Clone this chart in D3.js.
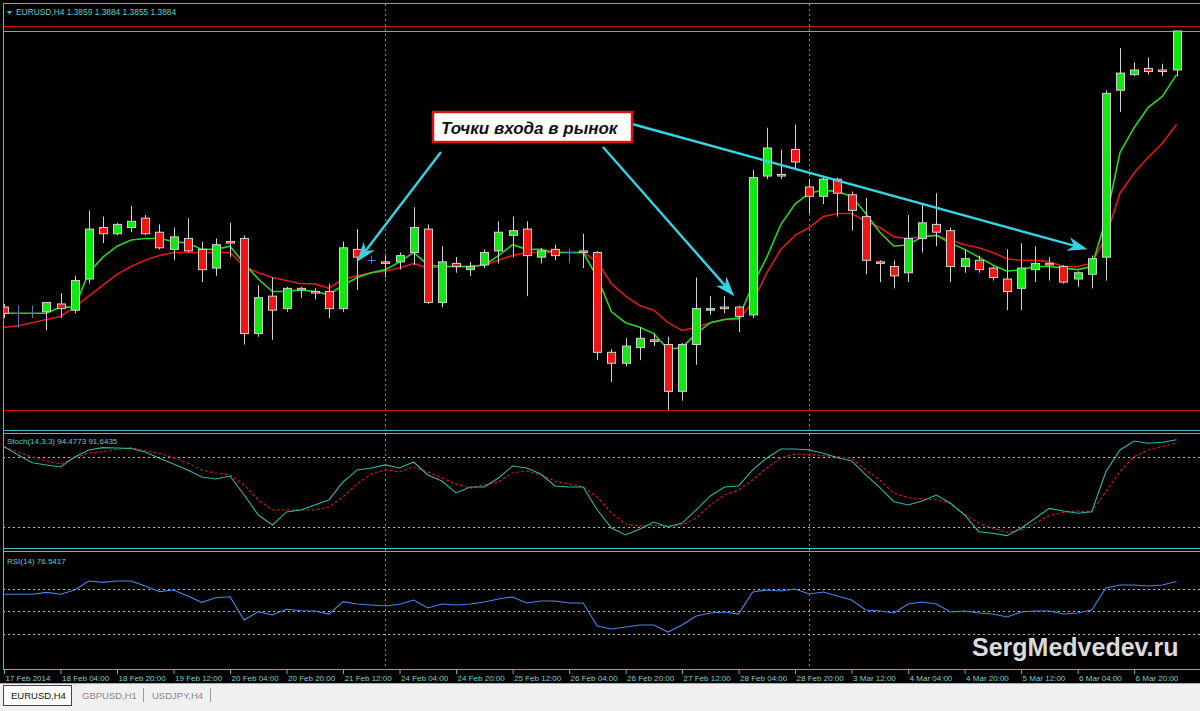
<!DOCTYPE html>
<html><head><meta charset="utf-8">
<script src="https://cdn.jsdelivr.net/npm/d3@7"></script>
<style>body{margin:0;background:#000;overflow:hidden}svg{display:block}</style>
</head><body>
<svg id="c" width="1200" height="711"></svg>
<script>
// ---------------- DATA ----------------
const symbolTitle = "EURUSD,H4";
const lastQuote = ["1.3859","1.3884","1.3855","1.3884"];
const opens = [1.3707,1.3703,1.3703,1.3704,1.3709,1.3705,1.3725,1.3758,1.3754,1.3758,
1.3764,1.3755,1.3744,1.3751,1.3744,1.3732,1.3749,1.3751,1.3690,1.3714,
1.3706,1.3719,1.3717,1.3717,1.3706,1.3744,1.3737,1.3736,1.3736,1.3742,
1.3757,1.3710,1.3735,1.3731,1.3734,1.3743,1.3753,1.3757,1.3739,1.3744,
1.3742,1.3743,1.3742,1.3678,1.3671,1.3681,1.3686,1.3683,1.3653,1.3683,
1.3705,1.3707,1.3707,1.3702,1.3791,1.3792,1.3808,1.3784,1.3778,1.3789,
1.3779,1.3765,1.3736,1.3733,1.3729,1.3751,1.3760,1.3756,1.3733,1.3737,
1.3732,1.3725,1.3719,1.3731,1.3735,1.3733,1.3725,1.3728,1.3739,1.3846,
1.3856,1.3860,1.3859,1.3859];
const highs = [1.3709,1.3708,1.3708,1.3710,1.3716,1.3727,1.3769,1.3765,1.3761,1.3772,
1.3766,1.3760,1.3758,1.3764,1.3749,1.3751,1.3761,1.3753,1.3721,1.3726,
1.3720,1.3720,1.3719,1.3722,1.3749,1.3757,1.3740,1.3740,1.3742,1.3771,
1.3760,1.3746,1.3739,1.3736,1.3744,1.3762,1.3765,1.3762,1.3745,1.3747,
1.3744,1.3754,1.3743,1.3680,1.3687,1.3694,1.3690,1.3688,1.3684,1.3726,
1.3714,1.3714,1.3708,1.3795,1.3822,1.3808,1.3824,1.3789,1.3790,1.3790,
1.3781,1.3777,1.3737,1.3737,1.3766,1.3773,1.3780,1.3758,1.3744,1.3740,
1.3733,1.3744,1.3748,1.3746,1.3739,1.3734,1.3730,1.3740,1.3846,1.3873,
1.3864,1.3867,1.3863,1.3884];
const lows = [1.3700,1.3694,1.3700,1.3692,1.3700,1.3703,1.3722,1.3748,1.3753,1.3755,
1.3753,1.3744,1.3737,1.3742,1.3723,1.3727,1.3739,1.3683,1.3688,1.3686,
1.3704,1.3713,1.3712,1.3700,1.3704,1.3718,1.3735,1.3726,1.3731,1.3734,
1.3709,1.3707,1.3729,1.3727,1.3732,1.3735,1.3739,1.3714,1.3735,1.3737,
1.3735,1.3732,1.3673,1.3659,1.3669,1.3673,1.3682,1.3641,1.3647,1.3670,
1.3702,1.3703,1.3691,1.3700,1.3789,1.3789,1.3795,1.3767,1.3773,1.3765,
1.3756,1.3728,1.3723,1.3719,1.3723,1.3742,1.3746,1.3723,1.3729,1.3729,
1.3724,1.3705,1.3705,1.3723,1.3724,1.3722,1.3720,1.3719,1.3724,1.3832,
1.3855,1.3856,1.3855,1.3855];
const closes = [1.3703,1.3703,1.3703,1.3710,1.3706,1.3724,1.3757,1.3754,1.3760,1.3762,
1.3754,1.3745,1.3752,1.3743,1.3731,1.3747,1.3748,1.3690,1.3713,1.3705,
1.3719,1.3718,1.3716,1.3706,1.3745,1.3739,1.3737,1.3735,1.3740,1.3758,
1.3710,1.3736,1.3733,1.3733,1.3742,1.3755,1.3756,1.3740,1.3743,1.3740,
1.3742,1.3742,1.3678,1.3671,1.3682,1.3687,1.3685,1.3653,1.3683,1.3706,
1.3706,1.3706,1.3701,1.3790,1.3809,1.3791,1.3800,1.3778,1.3789,1.3780,
1.3769,1.3737,1.3735,1.3727,1.3751,1.3761,1.3755,1.3733,1.3738,1.3731,
1.3726,1.3717,1.3732,1.3735,1.3734,1.3723,1.3729,1.3738,1.3844,1.3857,
1.3859,1.3858,1.3858,1.3884];
const maFast = [1.3703,1.3703,1.3703,1.3703,1.3707,1.3707,1.3729,1.3739,1.3746,1.3750,
1.3751,1.3751,1.3749,1.3748,1.3744,1.3744,1.3746,1.3735,1.3725,1.3717,
1.3717,1.3718,1.3717,1.3715,1.3721,1.3726,1.3729,1.3731,1.3736,1.3742,
1.3734,1.3733,1.3733,1.3733,1.3734,1.3740,1.3747,1.3744,1.3744,1.3742,
1.3742,1.3742,1.3726,1.3704,1.3697,1.3694,1.3690,1.3680,1.3681,1.3690,
1.3697,1.3699,1.3700,1.3721,1.3739,1.3760,1.3773,1.3780,1.3782,1.3781,
1.3778,1.3767,1.3755,1.3746,1.3747,1.3752,1.3753,1.3748,1.3744,1.3739,
1.3734,1.3730,1.3731,1.3733,1.3733,1.3732,1.3731,1.3733,1.3763,1.3806,
1.3822,1.3835,1.3842,1.3856];
const maSlow = [1.3694,1.3695,1.3697,1.3699,1.3701,1.3707,1.3714,1.3721,1.3728,1.3733,
1.3737,1.3740,1.3742,1.3742,1.3742,1.3742,1.3742,1.3733,1.3729,1.3726,
1.3724,1.3722,1.3722,1.3719,1.3725,1.3727,1.3729,1.3730,1.3732,1.3735,
1.3732,1.3733,1.3733,1.3733,1.3734,1.3737,1.3740,1.3742,1.3742,1.3742,
1.3742,1.3742,1.3736,1.3722,1.3714,1.3708,1.3705,1.3697,1.3692,1.3694,
1.3697,1.3699,1.3699,1.3710,1.3729,1.3744,1.3753,1.3758,1.3765,1.3767,
1.3767,1.3762,1.3758,1.3752,1.3751,1.3752,1.3753,1.3750,1.3747,1.3745,
1.3742,1.3738,1.3737,1.3737,1.3736,1.3733,1.3733,1.3735,1.3752,1.3780,
1.3793,1.3803,1.3812,1.3824];
const stochK = [88.5,81.4,74.8,72.9,71.1,79.7,85.7,87.7,87.4,87.0,
84.0,78.6,73.7,68.6,62.6,60.9,63.4,47.1,30.0,21.4,
32.6,34.3,38.6,42.9,58.3,68.6,70.3,72.9,70.3,75.4,
64.3,59.1,48.9,54.0,54.0,61.7,72.0,70.3,65.1,54.9,
54.0,54.0,34.3,18.9,12.9,18.0,24.0,19.7,23.1,34.3,
46.3,54.0,54.9,68.6,78.9,86.6,86.6,85.7,82.9,79.1,
76.3,64.3,53.4,41.4,38.6,42.0,47.1,40.0,30.0,15.7,
14.3,12.3,18.6,27.2,35.7,33.4,31.5,32.8,67.1,85.7,
93.4,91.5,92.3,94.48];
const stochD = [88.5,84.0,79.5,76.3,73.7,78.9,83.1,84.3,86.1,87.7,
84.9,82.9,78.9,74.6,68.6,66.0,64.3,55.7,42.9,34.3,
34.3,34.3,34.3,36.9,45.4,56.6,65.1,68.6,66.9,71.1,
66.9,61.7,56.6,53.1,55.7,58.3,66.0,67.7,64.3,59.1,
56.6,54.0,45.4,31.7,22.3,20.6,21.4,20.6,21.4,27.4,
38.6,47.1,51.4,60.0,70.3,78.9,82.3,82.0,80.8,80.0,
78.6,68.6,60.0,48.6,44.8,43.7,42.9,40.0,30.6,22.9,
18.6,15.2,17.1,22.9,29.4,32.3,33.4,32.8,50.0,67.1,
80.0,85.7,88.5,91.64];
const rsi = [65.2,65.2,65.2,66.9,65.2,69.0,77.0,75.8,77.0,77.0,
72.5,67.5,69.0,63.6,58.0,62.1,63.0,42.3,49.7,46.8,
51.8,50.6,50.3,47.6,58.6,56.5,55.6,54.8,56.3,60.1,
53.0,56.5,55.6,56.5,58.3,61.0,62.8,57.4,59.2,59.2,
57.4,57.4,37.0,34.3,36.1,37.9,37.9,31.6,37.9,45.9,
48.5,49.4,47.6,67.2,69.0,68.1,69.9,65.4,67.2,63.6,
60.1,51.2,50.3,48.5,56.5,58.3,56.5,49.4,50.3,48.5,
47.6,45.0,49.4,50.3,50.3,47.6,48.5,51.2,70.8,73.4,
73.4,72.5,73.4,76.54];
const tickIdx = [0,4,8,12,16,20,24,28,32,36,40,44,48,52,56,60,64,68,72,76,80];
const tickLabels = ["17 Feb 2014","18 Feb 04:00","18 Feb 20:00","19 Feb 12:00","20 Feb 04:00","20 Feb 20:00","21 Feb 12:00","24 Feb 04:00","24 Feb 20:00","25 Feb 12:00","26 Feb 04:00","26 Feb 20:00","27 Feb 12:00","28 Feb 04:00","28 Feb 20:00","3 Mar 12:00","4 Mar 04:00","4 Mar 20:00","5 Mar 12:00","6 Mar 04:00","6 Mar 20:00"];
const stochLevels = [80,20];
const rsiLevels = [70,50,30];
const redLevels = [1.3887,1.3641];
const bidPrice = 1.3884;
const separatorBars = [27,57];
const stochLabel = "Stoch(14,3,3) 94.4773 91.6435";
const rsiLabel = "RSI(14) 76.5417";
const noteText = "Точки входа в рынок";
const entryBars = [25, 51.7, 76.7];
const entryPrices = [1.3736, 1.3714, 1.3744];
const tabs = ["EURUSD,H4","GBPUSD,H1","USDJPY,H4"];
const watermark = "SergMedvedev.ru";

// ---------------- DRAW ----------------
const W=1200,H=711;
const TEAL="#45c2c2", UP="#10e810", DN="#ee1515", WICK="#d2d2d2", DOJI="#5a78b8";
const svg=d3.select("#c");
svg.append("rect").attr("width",W).attr("height",H).attr("fill","#000");
const n=opens.length;
const bars=d3.range(n).map(i=>({i,o:opens[i],h:highs[i],l:lows[i],c:closes[i]}));
const x=d3.scaleLinear().domain([0,n-1]).range([4,1176.5]);
const yP=d3.scaleLinear().domain([1.3630,1.3900]).range([427.2,6]);
const yS=d3.scaleLinear().domain([0,100]).range([550,433.3]);
const yR=d3.scaleLinear().domain([0,100]).range([667.6,555.1]);
const px=i=>Math.round(x(i))+0.5;

const defs=svg.append("defs");
[["cMain",4,429],["cSto",434,548],["cRsi",552,669]].forEach(([id,a,b])=>{
  defs.append("clipPath").attr("id",id).append("rect").attr("x",4).attr("y",a).attr("width",1196).attr("height",b-a);
});

// panel frames
const frame=svg.append("g").attr("stroke",TEAL).attr("stroke-width",1);
[3.5,430.5,433.5,548.5,551.5,669.5].forEach(y=>frame.append("line").attr("x1",3).attr("x2",1200).attr("y1",y).attr("y2",y));
frame.append("line").attr("x1",3.5).attr("x2",3.5).attr("y1",3).attr("y2",670);

// separators (dotted vertical)
svg.append("g").selectAll("line").data(separatorBars).join("line")
  .attr("x1",d=>px(d)).attr("x2",d=>px(d)).attr("y1",4).attr("y2",670)
  .attr("stroke","#3aa9b3").attr("stroke-dasharray","2,3");

// main panel
const main=svg.append("g").attr("clip-path","url(#cMain)");
main.selectAll("line.lvl").data(redLevels).join("line").attr("class","lvl")
  .attr("x1",3).attr("x2",1200).attr("y1",d=>Math.round(yP(d))+0.5).attr("y2",d=>Math.round(yP(d))+0.5)
  .attr("stroke","#c41a1a");
main.append("line").attr("x1",3).attr("x2",1200).attr("y1",Math.round(yP(bidPrice))+0.5).attr("y2",Math.round(yP(bidPrice))+0.5).attr("stroke","#9a9a9a");

const lineP=d3.line().x((d,i)=>x(i)).y(d=>yP(d));
main.append("path").attr("d",lineP(maSlow)).attr("fill","none").attr("stroke","#e01818").attr("stroke-width",1.6);
main.append("path").attr("d",lineP(maFast)).attr("fill","none").attr("stroke","#22d822").attr("stroke-width",1.6);

const cg=main.append("g");
cg.selectAll("line.w").data(bars).join("line").attr("class","w")
  .attr("x1",d=>px(d.i)).attr("x2",d=>px(d.i)).attr("y1",d=>yP(d.h)).attr("y2",d=>yP(d.l))
  .attr("stroke",d=>d.o===d.c?DOJI:WICK).attr("stroke-width",1);
cg.selectAll("line.dj").data(bars.filter(d=>d.o===d.c)).join("line").attr("class","dj")
  .attr("x1",d=>px(d.i)-4).attr("x2",d=>px(d.i)+4).attr("y1",d=>Math.round(yP(d.o))+0.5).attr("y2",d=>Math.round(yP(d.o))+0.5)
  .attr("stroke",DOJI);
cg.selectAll("rect.b").data(bars.filter(d=>d.o!==d.c)).join("rect").attr("class","b")
  .attr("x",d=>px(d.i)-4).attr("width",8)
  .attr("y",d=>yP(Math.max(d.o,d.c)))
  .attr("height",d=>Math.max(1,yP(Math.min(d.o,d.c))-yP(Math.max(d.o,d.c))))
  .attr("fill",d=>d.c>d.o?UP:DN).attr("stroke",WICK).attr("stroke-width",1);

// header
svg.append("path").attr("d","M7,11 L12,11 L9.5,14.5 Z").attr("fill",TEAL);
svg.append("text").attr("x",16).attr("y",15).attr("fill","#5ccfc8")
  .attr("font-family","Liberation Sans, Arial, sans-serif").attr("font-size",8.4)
  .text(symbolTitle+"  "+lastQuote.join(" "));

// stochastic
const sto=svg.append("g").attr("clip-path","url(#cSto)");
sto.selectAll("line").data(stochLevels).join("line")
  .attr("x1",3).attr("x2",1200).attr("y1",d=>Math.round(yS(d))+0.5).attr("y2",d=>Math.round(yS(d))+0.5)
  .attr("stroke","#b8b8b8").attr("stroke-dasharray","2,3");
const lineS=d3.line().x((d,i)=>x(i)).y(d=>yS(d));
sto.append("path").attr("d",lineS(stochD)).attr("fill","none").attr("stroke","#c01c1c").attr("stroke-width",1.2).attr("stroke-dasharray","3,2");
sto.append("path").attr("d",lineS(stochK)).attr("fill","none").attr("stroke","#2fb7a8").attr("stroke-width",1.1);
svg.append("text").attr("x",7).attr("y",444).attr("fill","#5ccfc8")
  .attr("font-family","Liberation Sans, Arial, sans-serif").attr("font-size",8).text(stochLabel);

// RSI
const rg=svg.append("g").attr("clip-path","url(#cRsi)");
rg.selectAll("line").data(rsiLevels).join("line")
  .attr("x1",3).attr("x2",1200).attr("y1",d=>Math.round(yR(d))+0.5).attr("y2",d=>Math.round(yR(d))+0.5)
  .attr("stroke","#b8b8b8").attr("stroke-dasharray","2,3");
const lineR=d3.line().x((d,i)=>x(i)).y(d=>yR(d));
rg.append("path").attr("d",lineR(rsi)).attr("fill","none").attr("stroke","#4a86e8").attr("stroke-width",1.1);
svg.append("text").attr("x",7).attr("y",564).attr("fill","#5ccfc8")
  .attr("font-family","Liberation Sans, Arial, sans-serif").attr("font-size",8).text(rsiLabel);

// x axis
const ax=svg.append("g").attr("transform","translate(0,670)")
  .call(d3.axisBottom(x).tickValues(tickIdx).tickFormat((d,k)=>tickLabels[k]).tickSize(4).tickSizeOuter(0));
ax.select(".domain").remove();
ax.selectAll(".tick line").attr("stroke",TEAL);
ax.selectAll(".tick text").attr("fill","#7fd2c6").attr("font-family","Liberation Sans, Arial, sans-serif")
  .attr("font-size",8).attr("text-anchor","start").attr("x",1).attr("y",11).attr("dy",0);

// watermark
svg.append("text").attr("x",972).attr("y",656).attr("fill","#dadada")
  .attr("font-family","Liberation Sans, Arial, sans-serif").attr("font-weight","bold").attr("font-size",25)
  .text(watermark);

// annotation arrows
const CY="#35d4e4";
function arrow(x1,y1,x2,y2){
  const a=Math.atan2(y2-y1,x2-x1), L=20, hw=7;
  const bx=x2-L*Math.cos(a), by=y2-L*Math.sin(a);
  const nx=-Math.sin(a)*hw, ny=Math.cos(a)*hw;
  const mx=x2-L*0.7*Math.cos(a), my=y2-L*0.7*Math.sin(a);
  svg.append("line").attr("x1",x1).attr("y1",y1).attr("x2",mx).attr("y2",my).attr("stroke",CY).attr("stroke-width",2.4);
  svg.append("path").attr("d",`M${x2},${y2}L${bx+nx},${by+ny}L${mx},${my}L${bx-nx},${by-ny}Z`).attr("fill",CY);
}
const starts=[[441,152],[603,147],[632,124]];
entryBars.forEach((b,k)=>arrow(starts[k][0],starts[k][1],x(b),yP(entryPrices[k])));

// note box
svg.append("rect").attr("x",433).attr("y",112).attr("width",199).attr("height",30)
  .attr("fill","#fff").attr("stroke","#d81414").attr("stroke-width",2.5);
svg.append("text").attr("x",441).attr("y",134).attr("fill","#111")
  .attr("font-family","Liberation Sans, Arial, sans-serif").attr("font-weight","bold").attr("font-style","italic")
  .attr("font-size",17).text(noteText);

// tab bar
svg.append("rect").attr("x",0).attr("y",683).attr("width",W).attr("height",28).attr("fill","#f0f0f0");
svg.append("line").attr("x1",0).attr("x2",W).attr("y1",683.5).attr("y2",683.5).attr("stroke","#a8a8a8");
svg.append("rect").attr("x",3.5).attr("y",685.5).attr("width",68).attr("height",20).attr("fill","#fff").attr("stroke","#444");
const tabX=[11,82,152];
tabs.forEach((t,k)=>{
  svg.append("text").attr("x",tabX[k]).attr("y",699).attr("font-family","Liberation Sans, Arial, sans-serif")
    .attr("font-size",9.5).attr("fill",k===0?"#111":"#8a8a8a").text(t);
});
[143.5,210.5].forEach(sx=>svg.append("line").attr("x1",sx).attr("x2",sx).attr("y1",688).attr("y2",702).attr("stroke","#999"));
</script>
</body></html>
